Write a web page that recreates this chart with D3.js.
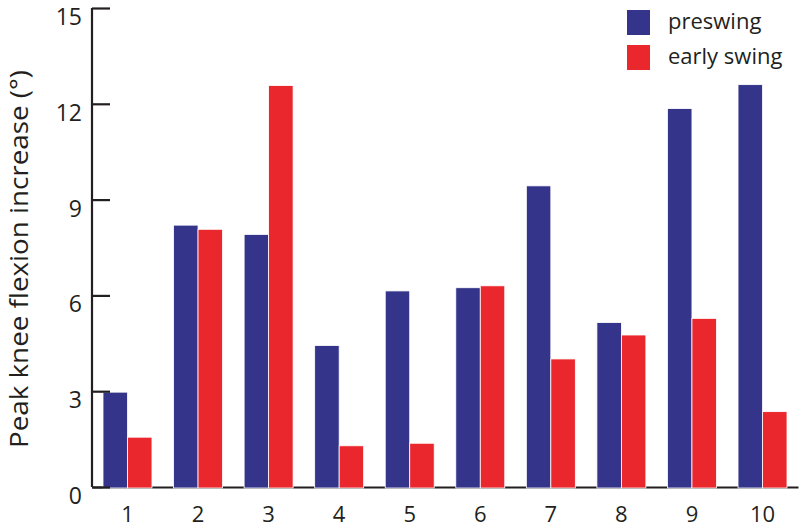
<!DOCTYPE html>
<html>
<head>
<meta charset="utf-8">
<script src="https://cdn.jsdelivr.net/npm/d3@7"></script>
<style>
  body { margin: 0; background: #fff; }
  svg text { font-family: "Open Sans", "Liberation Sans", sans-serif; fill: #231f20; }
  .axis path, .axis line { stroke: #231f20; stroke-width: 2.2; }
</style>
</head>
<body>
<div id="chart"></div>
<script>
// subjects 1..10
const subjects = ["1", "2", "3", "4", "5", "6", "7", "8", "9", "10"];
const seriesNames = ["preswing", "early swing"];
const preswing = [2.97, 8.2, 7.91, 4.43, 6.14, 6.24, 9.43, 5.15, 11.85, 12.6];
const earlySwing = [1.56, 8.07, 12.57, 1.29, 1.37, 6.3, 4.01, 4.76, 5.28, 2.36];
const yTicks = [0, 3, 6, 9, 12, 15];

const colours = { "preswing": "#34358a", "early swing": "#ea272d" };

const width = 800, height = 527;
const margin = { top: 8, right: 2, bottom: 40, left: 92 };

const svg = d3.select("#chart").append("svg")
  .attr("width", width)
  .attr("height", height);

const data = subjects.map((s, i) => ({
  subject: s,
  values: [
    { key: "preswing", value: preswing[i] },
    { key: "early swing", value: earlySwing[i] }
  ]
}));

const x0 = d3.scaleBand()
  .domain(subjects)
  .range([margin.left, width - margin.right])
  .paddingInner(0.306)
  .paddingOuter(0.156);

const x1 = d3.scaleBand()
  .domain(seriesNames)
  .range([0, x0.bandwidth()])
  .padding(0);

const y = d3.scaleLinear()
  .domain([0, 15])
  .range([height - margin.bottom, margin.top]);

// x axis line (no ticks)
svg.append("g")
  .attr("class", "axis x-axis")
  .attr("transform", `translate(0,${y(0)})`)
  .call(d3.axisBottom(x0).tickSize(0).tickSizeOuter(0).tickPadding(19))
  .call(g => g.selectAll("text")
    .attr("font-size", 22)
    .attr("dy", "0.71em"));

// bars
const groups = svg.append("g")
  .selectAll("g")
  .data(data)
  .join("g")
  .attr("transform", d => `translate(${x0(d.subject)},0)`);

groups.selectAll("rect")
  .data(d => d.values)
  .join("rect")
  .attr("x", d => x1(d.key))
  .attr("y", d => y(d.value))
  .attr("width", x1.bandwidth())
  .attr("height", d => y(0) - y(d.value) + 1)
  .attr("fill", d => colours[d.key])
  .attr("stroke", "#fff")
  .attr("stroke-width", 0.8);

// y axis with inward ticks
svg.append("g")
  .attr("class", "axis y-axis")
  .attr("transform", `translate(${margin.left},0)`)
  .call(d3.axisLeft(y).tickValues(yTicks).tickSizeInner(-18).tickSizeOuter(0).tickPadding(10))
  .call(g => g.select(".domain").attr("d", `M0,${y(15)}V${y(0)}`))
  .call(g => g.selectAll("text")
    .attr("font-size", 23)
    .attr("dy", "0.72em"));

svg.selectAll(".axis text").style("fill", "#231f20").attr("fill", "#231f20");

// y axis title
svg.append("text")
  .attr("transform", "rotate(-90)")
  .attr("x", -259)
  .attr("y", 28)
  .attr("text-anchor", "middle")
  .attr("font-size", 25)
  .attr("textLength", 378)
  .attr("lengthAdjust", "spacingAndGlyphs")
  .text("Peak knee flexion increase (°)");

// legend
const legend = svg.append("g")
  .attr("transform", "translate(627,10)");

const legendItems = legend.selectAll("g")
  .data(seriesNames)
  .join("g")
  .attr("transform", (d, i) => `translate(0,${i * 35})`);

legendItems.append("rect")
  .attr("width", 23)
  .attr("height", 25)
  .attr("fill", d => colours[d]);

legendItems.append("text")
  .attr("x", 41)
  .attr("y", 19)
  .attr("font-size", 22)
  .text(d => d);
</script>
</body>
</html>
